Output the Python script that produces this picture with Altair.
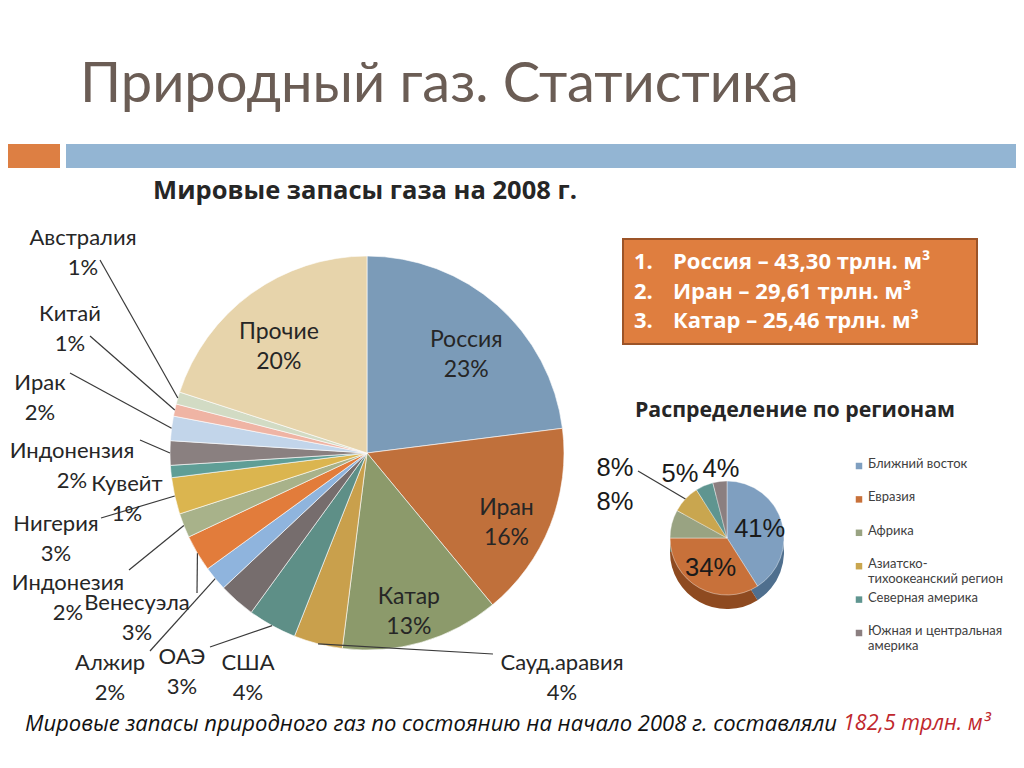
import math
import altair as alt
import pandas as pd

# ---------------- data ----------------
countries = ["Россия", "Иран", "Катар", "Сауд.аравия", "США", "ОАЭ", "Алжир", "Венесуэла",
             "Индонезия", "Нигерия", "Кувейт", "Индонензия", "Ирак", "Китай", "Австралия", "Прочие"]
shares = [23, 16, 13, 4, 4, 3, 2, 3, 2, 3, 1, 2, 2, 1, 1, 20]

regions = ["Ближний восток", "Евразия", "Африка", "Азиатско-тихоокеанский регион",
           "Северная америка", "Южная и центральная америка"]
region_shares = [41, 34, 8, 8, 5, 4]

leader_names = ["Россия", "Иран", "Катар"]
leader_volumes = ["43,30", "29,61", "25,46"]
world_total = "182,5"

# ---------------- styles ----------------
country_colors = ["#7b9bb8", "#c0703b", "#8c9a6b", "#c9a04c", "#5e8f87", "#766d6d", "#8fb4dd", "#e27c3b",
                  "#a8b28a", "#dbb54f", "#5f9e96", "#8a8080", "#c2d5ea", "#efb4a4", "#d2dbc4", "#e7d4ab"]
region_colors = ["#7f9fc0", "#c8713a", "#99a382", "#c9a64f", "#5f9590", "#8b7f80"]
region_side_colors = ["#4f6f8e", "#8e4a20", "#6a7358", "#937533", "#3d6864", "#5e5454"]
region_legend_text = ["Ближний восток", "Евразия", "Африка", "Азиатско-\nтихоокеанский регион",
                      "Северная америка", "Южная и центральная\nамерика"]

FONT = "Lato, 'Noto Sans', sans-serif"
BOLD = "'Open Sans', 'Noto Sans', sans-serif"
ARIAL = "'Liberation Sans', Arial, sans-serif"
DARK = "#262626"

# ---------------- layout (reference pixels) ----------------
C1 = (367, 453); R1 = 197
C2 = (727, 538); R2 = 57; SIDE = 14
inner_set = {"Россия", "Иран", "Катар", "Прочие"}
outer_label_pos = {
    "Австралия": (83, 238), "Китай": (70, 314), "Ирак": (40, 383), "Индонензия": (72, 451),
    "Кувейт": (127, 484), "Нигерия": (56, 524), "Индонезия": (68, 583), "Венесуэла": (137, 603),
    "Алжир": (110, 663), "ОАЭ": (182, 657), "США": (248, 663), "Сауд.аравия": (562, 663)}
leader_start = {
    "Австралия": (100, 260), "Китай": (90, 336), "Ирак": (70, 373), "Индонензия": (140, 440),
    "Нигерия": (101, 518), "Индонезия": (129, 570), "Венесуэла": (197, 593), "Алжир": (150, 651),
    "США": (210, 647), "Сауд.аравия": (493, 654)}
region_label_pos = [None, None, (615, 502), (615, 468), (680, 474), (721, 469)]
region_leader_start = {3: (638, 471)}

# ---------------- tables ----------------
tot1 = sum(shares)
rows, cum = [], 0
for i, (c, s, col) in enumerate(zip(countries, shares, country_colors)):
    mid = (cum + s / 2) / tot1 * 2 * math.pi
    cum += s
    lab = f"{c}\n{s}%"
    rows.append(dict(idx=i, name=c, share=s, color=col,
                     inner=lab if c in inner_set else "",
                     ex=C1[0] + R1 * math.sin(mid), ey=C1[1] - R1 * math.cos(mid)))
df1 = pd.DataFrame(rows)

outer_df = pd.DataFrame([dict(x=outer_label_pos[r["name"]][0], y=outer_label_pos[r["name"]][1],
                              text=f"{r['name']}\n{r['share']}%") for r in rows if r["name"] in outer_label_pos])
lead_df = pd.DataFrame([dict(x=leader_start[r["name"]][0], y=leader_start[r["name"]][1],
                             x2=r["ex"], y2=r["ey"]) for r in rows if r["name"] in leader_start])

tot2 = sum(region_shares)
rrows, cum = [], 0
for i, (n, s, col, scol) in enumerate(zip(regions, region_shares, region_colors, region_side_colors)):
    mid = (cum + s / 2) / tot2 * 2 * math.pi
    cum += s
    rrows.append(dict(idx=i, name=n, rshare=s, color=col, side=scol,
                      inner=f"{s}%" if region_label_pos[i] is None else "",
                      ex=C2[0] + R2 * math.sin(mid), ey=C2[1] - R2 * math.cos(mid)))
df2 = pd.DataFrame(rrows)
rout_df = pd.DataFrame([dict(x=region_label_pos[i][0], y=region_label_pos[i][1], text=f"{region_shares[i]}%")
                        for i in range(len(regions)) if region_label_pos[i] is not None])
rlead_df = pd.DataFrame([dict(x=p[0], y=p[1], x2=rrows[i]["ex"], y2=rrows[i]["ey"])
                         for i, p in region_leader_start.items()])
legend_df = pd.DataFrame([dict(x=859, y=466 + i * 33.4, tx=868, color=region_colors[i], text=region_legend_text[i])
                          for i in range(len(regions))])

top_df = pd.DataFrame([dict(num=f"{i + 1}.", text=f"{n} – {v} трлн. м³", x=634, tx=673, y=262 + i * 29.5)
                       for i, (n, v) in enumerate(zip(leader_names, leader_volumes))])

rects_df = pd.DataFrame([
    dict(x=8, x2=60, y=144, y2=168, fill="#dd7f43"),
    dict(x=66, x2=1016, y=144, y2=168, fill="#93b5d3"),
])
box_df = pd.DataFrame([dict(x=623, x2=977, y=239, y2=344)])

# ---------------- scales ----------------
SX = alt.Scale(domain=[8, 1016], nice=False, zero=False, padding=0)
SY = alt.Scale(domain=[760, 8], nice=False, zero=False, padding=0)
TH = alt.Scale(domain=[0, 100])


def X(f="x"):
    return alt.X(f"{f}:Q", scale=SX, axis=None)


def Y(f="y"):
    return alt.Y(f"{f}:Q", scale=SY, axis=None)


def txt(df, **kw):
    return alt.Chart(df).mark_text(**kw)


layers = []

# header bars
layers.append(alt.Chart(rects_df).mark_rect().encode(
    x=X(), x2="x2:Q", y=Y(), y2="y2:Q", color=alt.Color("fill:N", scale=None)))

# slide title
layers.append(txt(pd.DataFrame([dict(x=80, y=102, t="Природный газ. Статистика")]),
                  font=FONT, fontSize=56, color="#6b5d55", align="left", baseline="alphabetic")
              .encode(x=X(), y=Y(), text="t:N"))

# chart title
layers.append(txt(pd.DataFrame([dict(x=365, y=191, t="Мировые запасы газа на 2008 г.")]),
                  font=BOLD, fontSize=25.5, fontWeight="bold", color=DARK, align="center", baseline="middle")
              .encode(x=X(), y=Y(), text="t:N"))

# main pie
layers.append(alt.Chart(df1).mark_arc(outerRadius=R1, stroke="#ffffff", strokeWidth=0.6).encode(
    theta=alt.Theta("share:Q", stack=True, scale=TH),
    color=alt.Color("color:N", scale=None),
    order=alt.Order("idx:Q"),
    x=alt.value(C1[0] - 8), y=alt.value(C1[1] - 8)))
layers.append(alt.Chart(df1).mark_text(font=FONT, fontSize=23, color=DARK, lineBreak="\n", lineHeight=30,
                                       align="center", baseline="middle").encode(
    theta=alt.Theta("share:Q", stack=True, scale=TH),
    order=alt.Order("idx:Q"),
    radius=alt.value(150),
    text="inner:N",
    x=alt.value(C1[0] - 8), y=alt.value(C1[1] - 8)))

# leaders + outer labels
layers.append(alt.Chart(lead_df).mark_rule(color="#3a3a3a", strokeWidth=1.2).encode(
    x=X(), y=Y(), x2="x2:Q", y2="y2:Q"))
layers.append(txt(outer_df, font=FONT, fontSize=22, color=DARK, lineBreak="\n", lineHeight=30,
                  align="center", baseline="middle").encode(x=X(), y=Y(), text="text:N"))

# top-3 box
layers.append(alt.Chart(box_df).mark_rect(fill="#df7e3f", stroke="#9c5428", strokeWidth=2).encode(
    x=X(), x2="x2:Q", y=Y(), y2="y2:Q"))
layers.append(txt(top_df, font=BOLD, fontSize=22, fontWeight="bold", color="#ffffff", align="left",
                  baseline="middle").encode(x=X(), y=Y(), text="num:N"))
layers.append(txt(top_df, font=BOLD, fontSize=22, fontWeight="bold", color="#ffffff", align="left",
                  baseline="middle").encode(x=X("tx"), y=Y(), text="text:N"))

# regions title
layers.append(txt(pd.DataFrame([dict(x=795, y=411, t="Распределение по регионам")]),
                  font=BOLD, fontSize=21.3, fontWeight="bold", color=DARK, align="center", baseline="middle")
              .encode(x=X(), y=Y(), text="t:N"))

# regions pie (side + top)
layers.append(alt.Chart(df2).mark_arc(outerRadius=R2).encode(
    theta=alt.Theta("rshare:Q", stack=True, scale=TH),
    color=alt.Color("side:N", scale=None),
    order=alt.Order("idx:Q"),
    x=alt.value(C2[0] - 8), y=alt.value(C2[1] - 8 + SIDE)))
layers.append(alt.Chart(df2).mark_arc(outerRadius=R2, stroke="#ffffff", strokeWidth=0.4).encode(
    theta=alt.Theta("rshare:Q", stack=True, scale=TH),
    color=alt.Color("color:N", scale=None),
    order=alt.Order("idx:Q"),
    x=alt.value(C2[0] - 8), y=alt.value(C2[1] - 8)))
layers.append(alt.Chart(df2).mark_text(font=ARIAL, fontSize=25.5, color="#1a1a1a",
                                       align="center", baseline="middle").encode(
    theta=alt.Theta("rshare:Q", stack=True, scale=TH),
    order=alt.Order("idx:Q"),
    radius=alt.value(34),
    text="inner:N",
    x=alt.value(C2[0] - 8), y=alt.value(C2[1] - 8)))
layers.append(alt.Chart(rlead_df).mark_rule(color="#3a3a3a", strokeWidth=1.2).encode(
    x=X(), y=Y(), x2="x2:Q", y2="y2:Q"))
layers.append(txt(rout_df, font=ARIAL, fontSize=25.5, color="#1a1a1a", align="center", baseline="middle")
              .encode(x=X(), y=Y(), text="text:N"))

# regions legend
layers.append(alt.Chart(legend_df).mark_square(size=42, opacity=1).encode(
    x=X(), y=Y(), color=alt.Color("color:N", scale=None)))
layers.append(txt(legend_df, font=FONT, fontSize=13, color="#404040", align="left", baseline="top",
                  lineBreak="\n", lineHeight=15, dy=-8).encode(x=X("tx"), y=Y(), text="text:N"))

# footer
layers.append(txt(pd.DataFrame([dict(x=837, y=724,
                                     t="Мировые запасы природного газ по состоянию на начало 2008 г. составляли")]),
                  font=BOLD, fontSize=22, fontStyle="italic", color="#111111", align="right", baseline="middle")
              .encode(x=X(), y=Y(), text="t:N"))
layers.append(txt(pd.DataFrame([dict(x=843, y=724, t=f"{world_total} трлн. м³")]),
                  font=BOLD, fontSize=21.5, fontStyle="italic", color="#c0272d", align="left", baseline="middle")
              .encode(x=X(), y=Y(), text="t:N"))

chart = alt.layer(*layers).properties(
    width=1008, height=752, padding=0, background="#ffffff",
    autosize=alt.AutoSizeParams(type="none"),
).configure_view(stroke=None)

chart.save("out.html", embed_options={"renderer": "svg", "actions": False})
